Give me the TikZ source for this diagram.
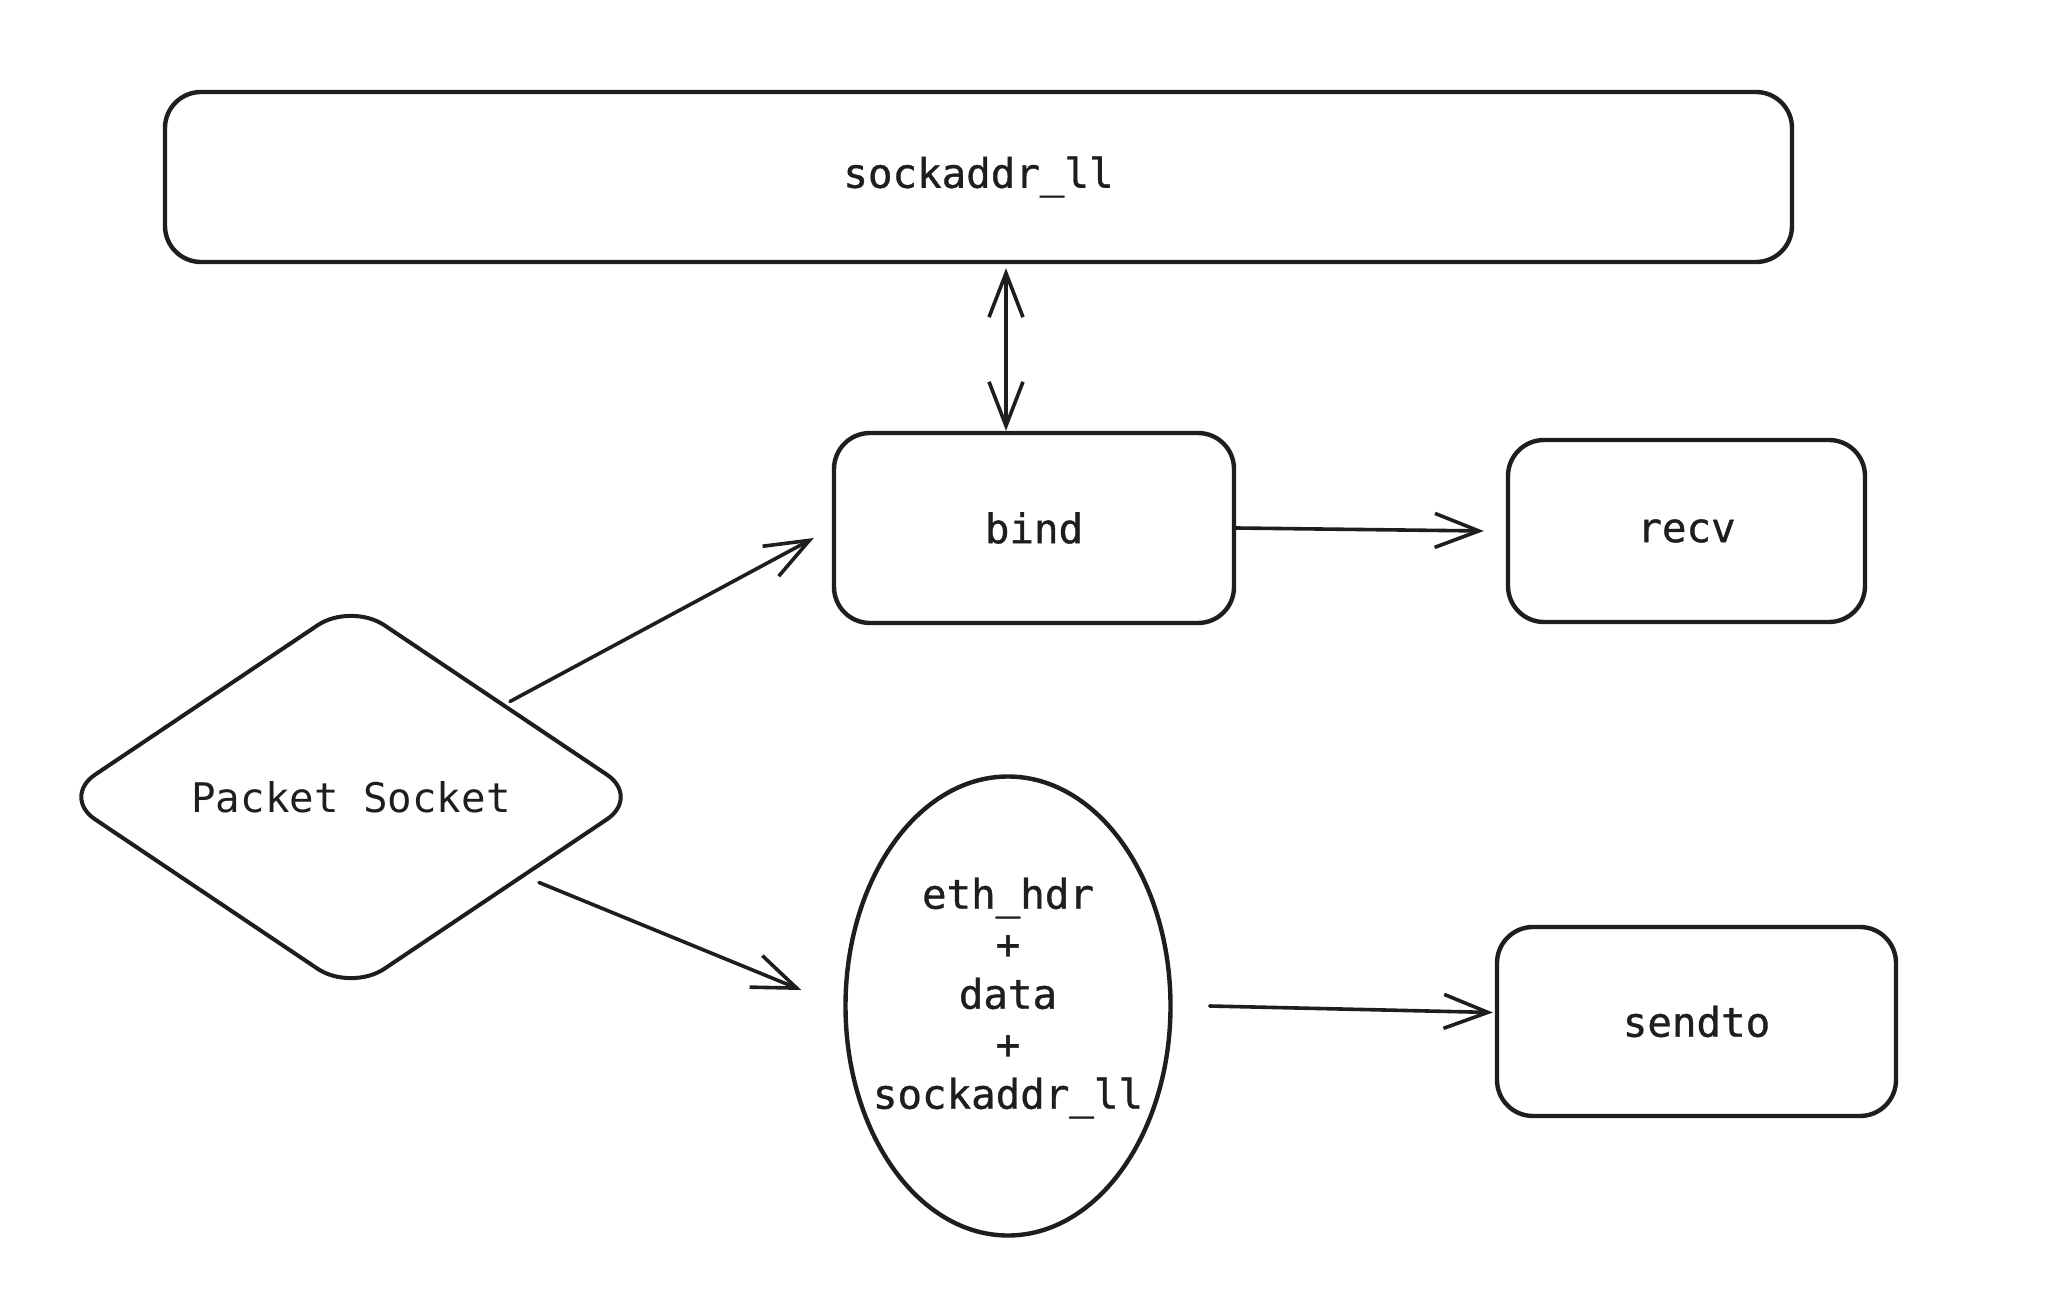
\documentclass[tikz,border=0pt]{standalone}
\usepackage{fontspec}
\newfontfamily\codefont{DejaVu Sans Mono}[FakeBold=0.9]
\newfontfamily\codelight{DejaVu Sans Mono}
\usetikzlibrary{shapes.geometric,arrows.meta,calc}
\definecolor{ink}{HTML}{1E1E1E}
\begin{document}
\begin{tikzpicture}[x=0.5pt,y=-0.5pt,
  every node/.style={font=\codefont\fontsize{20.4pt}{25pt}\selectfont, text=ink},
  box/.style={draw=ink, line width=2.2pt, rounded corners=18pt, inner sep=0pt},
  blob/.style={draw=ink, line width=2.2pt, ellipse, inner sep=0pt},
  choice/.style={draw=ink, line width=2pt, diamond, rounded corners=20pt, inner sep=0pt,
    font=\codelight\fontsize{20.4pt}{25pt}\selectfont},
  arr/.style={draw=ink, line width=1.8pt, line cap=round,
    -{Straight Barb[length=22pt,width=17pt,line width=1.8pt]}},
  biarr/.style={draw=ink, line width=1.8pt, line cap=round,
    {Straight Barb[length=22pt,width=17pt,line width=1.8pt]}-{Straight Barb[length=22pt,width=17pt,line width=1.8pt]}}]
  \useasboundingbox[fill=white] (0,0) rectangle (2056,1310);

  % nodes
  \node[box, minimum width=813.5pt, minimum height=85pt] (addr) at (978.5,177) {sockaddr\_ll};
  \node[box, minimum width=200pt, minimum height=95pt] (bind) at (1034,528) {bind};
  \node[box, minimum width=178.5pt, minimum height=91pt] (recv) at (1686.5,531) {recv};
  \node[box, minimum width=199.5pt, minimum height=94.5pt] (send) at (1696.5,1021.5) {sendto};
  \node[choice, minimum width=290pt, minimum height=195pt] (sock) at (351,797) {Packet Socket};
  \node[blob, minimum width=162.5pt, minimum height=229.5pt] (pkt) at (1008,1006) {};
  \node[align=center, inner sep=0pt] (pkttext) at (1008,998)
    {eth\_hdr\\+\\data\\+\\sockaddr\_ll};

  % connectors
  \draw[biarr] ($(addr.south)+(27.5,4)$) -- ($(bind.north)+(-28,0)$);
  \draw[arr] ($(sock.north east)+(13,3)$) -- ($(bind.west)+(-18,10)$);
  \draw[arr] ($(sock.south east)+(42,-13)$) -- ($(pkt.west)+(-42,-16)$);
  \draw[arr] (bind.east) -- ($(recv.west)+(-22,0)$);
  \draw[arr] ($(pkt.east)+(37,0)$) -- ($(send.west)+(-2,-9)$);
\end{tikzpicture}
\end{document}
